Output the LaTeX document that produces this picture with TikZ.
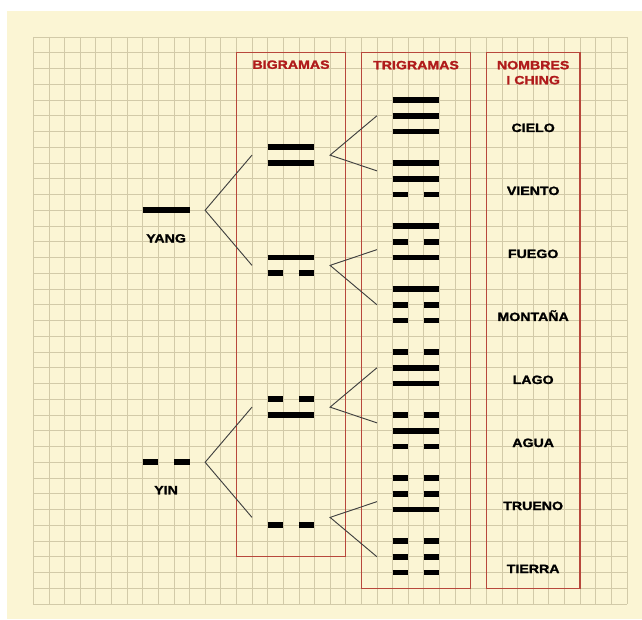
\documentclass[tikz,border=0pt]{standalone}
\usepackage{fontspec}
\setmainfont[FakeStretch=1.18, BoldFeatures={FakeBold=1.6}]{Liberation Sans}

\definecolor{paper}{HTML}{FBF5D4}
\definecolor{gridcol}{HTML}{D2CAA8}
\definecolor{boxred}{HTML}{B8483C}
\definecolor{titlered}{HTML}{B01B1B}

% one bar of a figure, three cells long, left end at (#1,#2)
\newcommand{\fullbar}[2]{\draw[barline] (#1,#2) -- ({#1+3},#2);}
\newcommand{\splitbar}[2]{\draw[barline] (#1,#2) -- ({#1+1},#2) ({#1+2},#2) -- ({#1+3},#2);}

\begin{document}
\begin{tikzpicture}[x=11.715pt, y=-11.8125pt,
    barline/.style={line width=4.2pt},
    branch/.style={black!75, line width=0.7pt},
    gridline/.style={draw=gridcol, line width=0.5pt},
    column/.style={draw=boxred, line width=0.8pt},
    headtext/.style={titlered, font=\bfseries\fontsize{9}{10}\selectfont,
        text height=6.4pt, text depth=0pt, inner sep=0pt},
    nametext/.style={black, font=\bfseries\fontsize{9}{10}\selectfont,
        text height=6.4pt, text depth=0pt, inner sep=0pt}]

    % ── Paper and grid (one unit = one cell, rows counted downwards) ─────────
    \useasboundingbox[fill=white] (-2.132,-2.349) rectangle (38.968,36.952);
    \fill[paper] (-1.684,-1.651) rectangle (38.968,36.952);
    \foreach \i in {0,...,38} \draw[gridline] (\i,0) -- (\i,36);
    \foreach \j in {0,...,36} \draw[gridline] (0,\j) -- (38,\j);

    % ── Columns ──────────────────────────────────────────────────────────────
    \draw[column] (13,1) rectangle (20,33);
    \draw[column] (21,1) rectangle (28,35);
    \draw[column] (29,1) rectangle (35,35);

    \node[headtext] (bigramas)  at (16.5,1.75) {BIGRAMAS};
    \node[headtext] (trigramas) at (24.5,1.78) {TRIGRAMAS};
    \node[headtext] (nombres)   at (32,1.78)   {NOMBRES};
    \node[headtext] (iching)    at (32,2.73)   {I CHING};

    % ── Yang and yin ─────────────────────────────────────────────────────────
    \fullbar{7}{11}
    \node[nametext] (yang-text) at (8.5,12.78) {YANG};
    \splitbar{7}{27}
    \node[nametext] (yin-text) at (8.5,28.76) {YIN};

    % ── Bigrams ──────────────────────────────────────────────────────────────
    \fullbar{15}{7}   \fullbar{15}{8}
    \fullbar{15}{14}  \splitbar{15}{15}
    \splitbar{15}{23} \fullbar{15}{24}
    \splitbar{15}{31}

    % ── Trigrams ─────────────────────────────────────────────────────────────
    \fullbar{23}{4}   \fullbar{23}{5}   \fullbar{23}{6}
    \fullbar{23}{8}   \fullbar{23}{9}   \splitbar{23}{10}
    \fullbar{23}{12}  \splitbar{23}{13} \fullbar{23}{14}
    \fullbar{23}{16}  \splitbar{23}{17} \splitbar{23}{18}
    \splitbar{23}{20} \fullbar{23}{21}  \fullbar{23}{22}
    \splitbar{23}{24} \fullbar{23}{25}  \splitbar{23}{26}
    \splitbar{23}{28} \splitbar{23}{29} \fullbar{23}{30}
    \splitbar{23}{32} \splitbar{23}{33} \splitbar{23}{34}

    % ── I Ching names ────────────────────────────────────────────────────────
    \node[nametext] (cielo)   at (32,5.76)  {CIELO};
    \node[nametext] (viento)  at (32,9.76)  {VIENTO};
    \node[nametext] (fuego)   at (32,13.76) {FUEGO};
    \node[nametext] (montana) at (32,17.76) {MONTAÑA};
    \node[nametext] (lago)    at (32,21.76) {LAGO};
    \node[nametext] (agua)    at (32,25.76) {AGUA};
    \node[nametext] (trueno)  at (32,29.76) {TRUENO};
    \node[nametext] (tierra)  at (32,33.76) {TIERRA};

    % ── Branching lines ──────────────────────────────────────────────────────
    \coordinate (yang) at (11,11);
    \coordinate (yin)  at (11,27);
    \coordinate (bi1)  at (14,7.5);
    \coordinate (bi2)  at (14,14.5);
    \coordinate (bi3)  at (14,23.5);
    \coordinate (bi4)  at (14,30.5);
    \draw[branch] (bi1) -- (yang) -- (bi2);
    \draw[branch] (bi3) -- (yin) -- (bi4);

    \coordinate (fork1) at (19,7.5);
    \coordinate (fork2) at (19,14.5);
    \coordinate (fork3) at (19,23.5);
    \coordinate (fork4) at (19,30.5);
    \coordinate (tri1) at (22,5);
    \coordinate (tri2) at (22,8.5);
    \coordinate (tri3) at (22,13.5);
    \coordinate (tri4) at (22,17);
    \coordinate (tri5) at (22,21);
    \coordinate (tri6) at (22,24.5);
    \coordinate (tri7) at (22,29.5);
    \coordinate (tri8) at (22,33);
    \draw[branch] (tri1) -- (fork1) -- (tri2);
    \draw[branch] (tri3) -- (fork2) -- (tri4);
    \draw[branch] (tri5) -- (fork3) -- (tri6);
    \draw[branch] (tri7) -- (fork4) -- (tri8);

\end{tikzpicture}
\end{document}
